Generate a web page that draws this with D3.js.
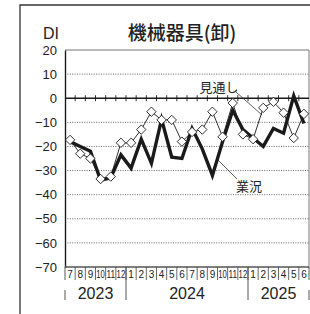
<!DOCTYPE html>
<html><head><meta charset="utf-8">
<script src="https://cdn.jsdelivr.net/npm/d3@7"></script>
<style>
html,body{margin:0;padding:0;background:#fff;}
svg{display:block;}
</style></head>
<body>
<svg id="c" width="310" height="314"></svg>
<script>
const monthLabels = ["7","8","9","10","11","12","1","2","3","4","5","6","7","8","9","10","11","12","1","2","3","4","5","6"];
const yearLabels = ["2023","2024","2025"];
const yearSpans = [6,12,6];
const yTicks = [20,10,0,-10,-20,-30,-40,-50,-60,-70];
const gyokyo = [-18,-20,-22,-34,-33,-23.5,-29,-17,-27,-8.7,-24.5,-25,-12.5,-21,-32,-18,-5,-13,-16.5,-20,-12.5,-14.5,1,-10.5];
const mitoshi = [-17.3,-23,-25,-33.5,-32.5,-18.5,-18.5,-13,-5.6,-9,-9,-18,-14,-13,-5.6,-16,-2,-15,-17,-4,-1.5,-6,-16.5,-6.5];

const svg = d3.select("#c");
const L = 65, R = 309, T = 50, B = 267;
const x = d3.scaleBand().domain(d3.range(monthLabels.length)).range([L, R]).padding(0);
const xc = i => x(i) + x.bandwidth()/2;
const y = d3.scaleLinear().domain([-70, 20]).range([B, T]);
const ink = "#1a1a1a";

// outer frame
svg.append("path").attr("d", `M20,314 V5 H310`).attr("fill","none").attr("stroke","#333").attr("stroke-width",1.3);

// title & DI
svg.append("text").attr("x",182).attr("y",40).attr("text-anchor","middle")
  .attr("font-family","'Noto Sans CJK JP'").attr("font-weight",500).attr("font-size",19).attr("fill","#222")
  .text("機械器具(卸)");
svg.append("text").attr("x",43).attr("y",39)
  .attr("font-family","'Liberation Sans',Arial").attr("font-size",16).attr("fill","#222").text("DI");

// gridlines
const grid = svg.append("g");
grid.selectAll("line").data(yTicks.filter(v => v !== 0 && v !== 20 && v !== -70)).join("line")
  .attr("x1",L).attr("x2",R).attr("y1",d=>y(d)).attr("y2",d=>y(d))
  .attr("stroke","#555").attr("stroke-width",0.9).attr("stroke-dasharray","1,1.4");

// plot border
svg.append("line").attr("x1",L).attr("x2",R).attr("y1",y(20)).attr("y2",y(20)).attr("stroke","#777").attr("stroke-width",1);
svg.append("line").attr("x1",R).attr("x2",R).attr("y1",y(20)).attr("y2",B).attr("stroke","#777").attr("stroke-width",1);

// y axis
const yAxis = d3.axisLeft(y).tickValues(yTicks).tickSize(0).tickPadding(8)
  .tickFormat(d => d < 0 ? "\u2212" + Math.abs(d) : String(d));
const ya = svg.append("g").attr("transform",`translate(${L},0)`).call(yAxis);
ya.select(".domain").attr("stroke",ink).attr("stroke-width",1.4);
ya.selectAll("text").attr("font-family","'Liberation Sans',Arial").attr("font-size",13).attr("fill","#222");

// zero line with ticks
svg.append("line").attr("x1",L).attr("x2",R).attr("y1",y(0)).attr("y2",y(0)).attr("stroke",ink).attr("stroke-width",1.5);
svg.append("g").selectAll("line").data(d3.range(1, monthLabels.length)).join("line")
  .attr("x1",d=>x(d)).attr("x2",d=>x(d)).attr("y1",y(0)-3).attr("y2",y(0)+3)
  .attr("stroke",ink).attr("stroke-width",0.9);

// bottom axis line
svg.append("line").attr("x1",L).attr("x2",R).attr("y1",B).attr("y2",B).attr("stroke","#555").attr("stroke-width",1.3);

// month separators & labels
const xa = svg.append("g");
xa.selectAll("line.m").data(d3.range(1, monthLabels.length)).join("line").attr("class","m")
  .attr("x1",d=>x(d)).attr("x2",d=>x(d)).attr("y1",B).attr("y2",B+13)
  .attr("stroke","#444").attr("stroke-width",0.8);
xa.selectAll("text").data(monthLabels).join("text")
  .attr("x",(d,i)=>xc(i)).attr("y",B+10.5).attr("text-anchor","middle")
  .attr("font-family","'Liberation Sans',Arial").attr("font-size",10).attr("fill","#222")
  .attr("textLength",d=>d.length>1?8.6:null).attr("lengthAdjust","spacingAndGlyphs")
  .text(d=>d);

// year separators & labels
let acc = 0;
const yearStart = yearSpans.map(n => { const s = acc; acc += n; return s; });
[0, monthLabels.length].forEach(i => {
  const xx = i === 0 ? L : R;
  svg.append("line").attr("x1",xx).attr("x2",xx).attr("y1",B).attr("y2",B+13).attr("stroke","#444").attr("stroke-width",0.9);
  svg.append("line").attr("x1",xx).attr("x2",xx).attr("y1",B+23).attr("y2",B+33).attr("stroke","#444").attr("stroke-width",0.9);
});
yearStart.slice(1).forEach(s => {
  svg.append("line").attr("x1",x(s)).attr("x2",x(s)).attr("y1",B).attr("y2",B+33).attr("stroke","#444").attr("stroke-width",0.9);
});
svg.append("g").selectAll("text").data(yearLabels).join("text")
  .attr("x",(d,i)=> (x(yearStart[i]) + (yearStart[i]+yearSpans[i] >= monthLabels.length ? R : x(yearStart[i]+yearSpans[i])))/2)
  .attr("y",B+32).attr("text-anchor","middle")
  .attr("font-family","'Liberation Sans',Arial").attr("font-size",16).attr("fill","#222").text(d=>d);

// series
const line = d3.line().x((d,i)=>xc(i)).y(d=>y(d));
svg.append("path").datum(mitoshi).attr("d",line).attr("fill","none").attr("stroke",ink).attr("stroke-width",0.9);
svg.append("path").datum(gyokyo).attr("d",line).attr("fill","none").attr("stroke",ink).attr("stroke-width",3.4).attr("stroke-linejoin","miter").attr("stroke-miterlimit",6);
const dia = d3.symbol().type(d3.symbolDiamond2).size(56);
svg.append("g").selectAll("path").data(mitoshi).join("path")
  .attr("transform",(d,i)=>`translate(${xc(i)},${y(d)})`)
  .attr("d",dia).attr("fill","#fff").attr("stroke",ink).attr("stroke-width",0.9);

// labels with leaders
svg.append("text").attr("x",219).attr("y",92).attr("text-anchor","middle")
  .attr("font-family","'Noto Sans CJK JP'").attr("font-size",13).attr("fill","#222").text("見通し");
svg.append("line").attr("x1",236).attr("y1",92).attr("x2",262).attr("y2",115).attr("stroke",ink).attr("stroke-width",0.7);
svg.append("text").attr("x",249).attr("y",191).attr("text-anchor","middle")
  .attr("font-family","'Noto Sans CJK JP'").attr("font-size",13).attr("fill","#222").text("業況");
svg.append("line").attr("x1",218).attr("y1",160).attr("x2",237).attr("y2",179).attr("stroke",ink).attr("stroke-width",0.7);
</script>
</body></html>
